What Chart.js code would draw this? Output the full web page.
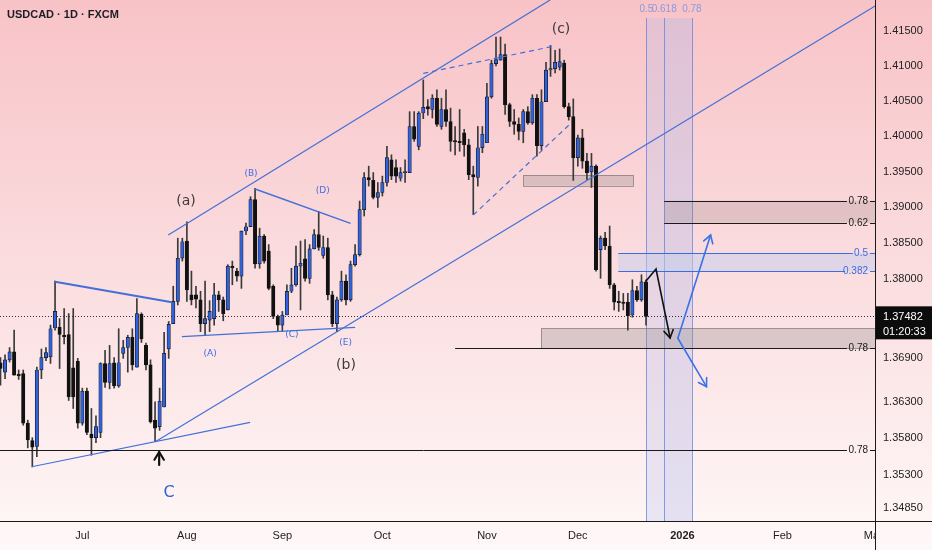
<!DOCTYPE html>
<html>
<head>
<meta charset="utf-8">
<script src="https://cdn.jsdelivr.net/npm/chart.js@4.4.1/dist/chart.umd.min.js"></script>
<style>
html, body { margin: 0; padding: 0; background: #fff; }
canvas { display: block; }
</style>
</head>
<body>
<canvas id="chart" width="932" height="550"></canvas>
<script>
// USDCAD daily candles, index 0 = 5 Jun 2025 (one bar per weekday)
var candleOpen = [
  1.3684,1.3671,1.3688,1.3699,1.3668,1.3669,1.3601,1.3577,1.3569,1.3674,
  1.3691,1.3692,1.3732,1.3733,1.3722,1.3723,1.3677,1.3686,1.3601,1.3645,
  1.3586,1.3581,1.3588,1.3683,1.3657,1.3684,1.3652,1.3697,1.3705,1.3719,
  1.3678,1.3751,1.3708,1.3681,1.3605,1.3596,1.3623,1.3703,1.3738,1.3769,
  1.3829,1.3853,1.3778,1.3778,1.3771,1.3738,1.3743,1.3745,1.3778,1.3771,
  1.3757,1.3818,1.3811,1.3804,1.3867,1.3873,1.3911,1.3821,1.3860,1.3839,
  1.3790,1.3748,1.3736,1.3750,1.3783,1.3792,1.3818,1.3828,1.3801,1.3842,
  1.3862,1.3833,1.3844,1.3778,1.3738,1.3771,1.3797,1.3771,1.3820,1.3834,
  1.3897,1.3942,1.3938,1.3914,1.3921,1.3935,1.3967,1.3956,1.3941,1.3949,
  1.3949,1.4014,1.3986,1.4033,1.4042,1.4038,1.4054,1.4014,1.4038,1.4021,
  1.3994,1.3993,1.4005,1.3988,1.3946,1.3942,1.3984,1.3991,1.4056,1.4103,
  1.4108,1.4116,1.4045,1.4021,1.4017,1.4007,1.4035,1.4019,1.4054,1.3987,
  1.4049,1.4094,1.4096,1.4098,1.4104,1.4042,1.4028,1.3970,1.3998,1.3965,
  1.3950,1.3958,1.3841,1.3857,1.3846,1.3792,1.3769,1.3768,1.3768,1.3750,
  1.3784,1.3771,1.3796
];
var candleHigh = [
  1.3691,1.3695,1.3705,1.3729,1.3674,1.3674,1.3605,1.3581,1.3678,1.3703,
  1.3705,1.3736,1.3797,1.3745,1.3759,1.3752,1.3759,1.3690,1.3649,1.3649,
  1.3621,1.3611,1.3684,1.3701,1.3708,1.3691,1.3731,1.3715,1.3722,1.3731,
  1.3773,1.3753,1.3711,1.3688,1.3630,1.3649,1.3726,1.3741,1.3790,1.3857,
  1.3857,1.3880,1.3811,1.3790,1.3783,1.3797,1.3770,1.3794,1.3783,1.3775,
  1.3820,1.3825,1.3815,1.3867,1.3878,1.3915,1.3927,1.3871,1.3862,1.3848,
  1.3792,1.3750,1.3755,1.3792,1.3815,1.3846,1.3853,1.3855,1.3848,1.3869,
  1.3894,1.3860,1.3857,1.3783,1.3775,1.3811,1.3806,1.3825,1.3848,1.3909,
  1.3949,1.3958,1.3949,1.3935,1.3944,1.3986,1.3974,1.3967,1.3956,1.3967,
  1.4035,1.4035,1.4035,1.4080,1.4052,1.4059,1.4066,1.4054,1.4066,1.4040,
  1.4014,1.4038,1.4010,1.3996,1.3958,1.4014,1.4014,1.4075,1.4108,1.4141,
  1.4141,1.4131,1.4047,1.4038,1.4026,1.4038,1.4042,1.4059,1.4059,1.4066,
  1.4105,1.4129,1.4122,1.4124,1.4108,1.4047,1.4053,1.4002,1.4010,1.3976,
  1.3976,1.3960,1.3860,1.3865,1.3874,1.3794,1.3783,1.3780,1.3780,1.3799,
  1.3790,1.3806,1.3799
];
var candleLow = [
  1.3653,1.3662,1.3685,1.3667,1.3661,1.3598,1.3567,1.3541,1.3555,1.3662,
  1.3687,1.3683,1.3729,1.3676,1.3710,1.3632,1.3621,1.3594,1.3598,1.3585,
  1.3557,1.3574,1.3581,1.3650,1.3648,1.3649,1.3650,1.3690,1.3671,1.3674,
  1.3678,1.3712,1.3674,1.3601,1.3576,1.3591,1.3623,1.3690,1.3738,1.3764,
  1.3825,1.3769,1.3764,1.3760,1.3727,1.3722,1.3727,1.3736,1.3755,1.3742,
  1.3757,1.3792,1.3797,1.3787,1.3862,1.3873,1.3815,1.3815,1.3822,1.3785,
  1.3745,1.3727,1.3727,1.3750,1.3781,1.3790,1.3757,1.3797,1.3794,1.3842,
  1.3840,1.3829,1.3771,1.3734,1.3727,1.3769,1.3764,1.3769,1.3818,1.3832,
  1.3888,1.3930,1.3912,1.3900,1.3916,1.3930,1.3939,1.3935,1.3937,1.3935,
  1.3949,1.3993,1.3981,1.4025,1.4030,1.4026,1.4014,1.4010,1.4014,1.3979,
  1.3974,1.3979,1.3972,1.3939,1.3890,1.3930,1.3977,1.3991,1.4054,1.4100,
  1.4108,1.4031,1.4014,1.4003,1.3995,1.3991,1.4017,1.4017,1.3972,1.3981,
  1.4049,1.4085,1.4090,1.4094,1.4040,1.4023,1.3938,1.3958,1.3955,1.3939,
  1.3928,1.3811,1.3801,1.3841,1.3787,1.3757,1.3755,1.3757,1.3729,1.3747,
  1.3769,1.3769,1.3736
];
var candleClose = [
  1.3676,1.3688,1.3699,1.3667,1.3666,1.3601,1.3578,1.3568,1.3674,1.3691,
  1.3698,1.3731,1.3755,1.3723,1.3720,1.3637,1.3637,1.3601,1.3645,1.3588,
  1.3581,1.3596,1.3683,1.3657,1.3683,1.3652,1.3684,1.3705,1.3719,1.3681,
  1.3752,1.3717,1.3681,1.3603,1.3594,1.3631,1.3697,1.3737,1.3769,1.3829,
  1.3852,1.3785,1.3771,1.3772,1.3738,1.3745,1.3755,1.3778,1.3771,1.3752,
  1.3818,1.3816,1.3804,1.3867,1.3873,1.3911,1.3821,1.3860,1.3825,1.3787,
  1.3748,1.3736,1.3750,1.3783,1.3792,1.3818,1.3822,1.3801,1.3842,1.3862,
  1.3844,1.3844,1.3778,1.3738,1.3771,1.3797,1.3771,1.3820,1.3834,1.3897,
  1.3942,1.3939,1.3914,1.3921,1.3935,1.3970,1.3944,1.3944,1.3949,1.3950,
  1.4014,1.3996,1.4033,1.4041,1.4039,1.4054,1.4017,1.4038,1.4021,1.3993,
  1.3992,1.3991,1.3988,1.3946,1.3943,1.3984,1.4003,1.4056,1.4103,1.4109,
  1.4116,1.4045,1.4021,1.4017,1.4007,1.4035,1.4019,1.4054,1.3987,1.4049,
  1.4094,1.4096,1.4105,1.4106,1.4042,1.4028,1.3970,1.3998,1.3965,1.3949,
  1.3958,1.3813,1.3857,1.3846,1.3792,1.3768,1.3767,1.3766,1.3749,1.3784,
  1.3771,1.3796,1.37482
];

// axis ticks
var monthTicks = [18, 41, 62, 84, 107, 127, 150, 172, 192];
var monthLabels = ['Jul', 'Aug', 'Sep', 'Oct', 'Nov', 'Dec', '2026', 'Feb', 'Mar'];
var priceTicks = [1.415, 1.410, 1.405, 1.400, 1.395, 1.390, 1.385, 1.380, 1.369, 1.363, 1.358, 1.353, 1.3485];
var countdown = '01:20:33';

// drawings: [bar index, price]
var upperChannel = [[36.9, 1.38614], [120.9, 1.41939]];
var lowerChannel = [[34.05, 1.35754], [192.4, 1.41853]];
var waveCSupport = [[6.86, 1.35412], [54.9, 1.36020]];
var triangleTop = [[12.0, 1.37963], [37.7, 1.37677]];
var lineACE = [[39.9, 1.37200], [78.0, 1.37330]];
var lineBD = [[56.0, 1.39259], [77.0, 1.38778]];
var dashTop = [[93.0, 1.40893], [121.2, 1.41272]];
var dashLow = [[104.0, 1.38894], [125.3, 1.40175]];

var arrowBlack = [[142.0, 1.37973], [144.2, 1.38140], [147.3, 1.37182]];
var arrowUp = [[149.0, 1.37178], [156.2, 1.38614]];
var arrowDown = [[149.0, 1.37178], [155.3, 1.36510]];
var arrowC = [[34.9, 1.35436], [34.9, 1.35613]];

// zones: [from index, to index (null = right edge), low, high]
var zoneBoxes = [[115.0, 139.2, 1.39305, 1.39455], [118.9, null, 1.37039, 1.37316]];
var fibFills = [[146.0, 1.38786, 1.39094], [135.9, 1.38112, 1.38359]];
// fib levels: [from, to, price, label]
var fibBlack = [
  [146.0, 186.2, 1.39094, '0.78'],
  [146.0, 186.2, 1.38786, '0.62'],
  [100.0, 186.2, 1.37039, '0.78'],
  [-1, 186.2, 1.35641, '0.78']
];
var fibBlue = [
  [135.9, 187.5, 1.38359, '0.5'],
  [135.9, 185.8, 1.38112, '0.382']
];
var timeFibs = [[142.1, '0.5'], [146.0, '0.618'], [152.1, '0.78']];

var waveLabels = [['(a)', 40.8, 1.39090], ['(b)', 76.0, 1.36809], ['(c)', 123.3, 1.41524]];
var subLabels = [['(B)', 55.1, 1.39469], ['(D)', 70.9, 1.39230], ['(A)', 46.1, 1.36960], ['(C)', 64.1, 1.37223], ['(E)', 75.9, 1.37113]];
var bigLabels = [['C', 37.1, 1.35054]];

var BLUE = '#2f62dc';
var LINE = '#4270d8';
var FONT = '"Liberation Sans", Arial, sans-serif';

function toXY(pts) {
  return pts.map(function (p) { return { x: p[0], y: p[1] }; });
}
function trend(pts, width, dash) {
  return { type: 'line', data: toXY(pts), borderColor: LINE, borderWidth: width, borderDash: dash || [],
    pointRadius: 0, fill: false, tension: 0, order: 1 };
}

var wicks = [], bodies = [], bodyColors = [];
for (var i = 0; i < candleOpen.length; i++) {
  wicks.push({ x: i, y: [candleLow[i], candleHigh[i]] });
  bodies.push({ x: i, y: [candleOpen[i], candleClose[i]] });
  bodyColors.push(candleClose[i] >= candleOpen[i] ? BLUE : '#111');
}

function bgGradient(ctx) {
  var g = ctx.createLinearGradient(0, 0, 0, 550);
  g.addColorStop(0, '#f8c3c7');
  g.addColorStop(0.55, '#fbe0e2');
  g.addColorStop(1, '#fff8f8');
  return g;
}

function line(ctx, x1, y1, x2, y2) {
  ctx.beginPath(); ctx.moveTo(x1, y1); ctx.lineTo(x2, y2); ctx.stroke();
}

function arrow(c, pts, color, width) {
  var ctx = c.ctx, xs = c.scales.x, ys = c.scales.y;
  var p = pts.map(function (q) { return [xs.getPixelForValue(q[0]), ys.getPixelForValue(q[1])]; });
  ctx.save();
  ctx.strokeStyle = color; ctx.lineWidth = width; ctx.lineCap = 'round';
  ctx.beginPath(); ctx.moveTo(p[0][0], p[0][1]);
  for (var k = 1; k < p.length; k++) ctx.lineTo(p[k][0], p[k][1]);
  ctx.stroke();
  var a = p[p.length - 2], b = p[p.length - 1];
  var ang = Math.atan2(b[1] - a[1], b[0] - a[0]);
  var len = 9;
  ctx.beginPath();
  ctx.moveTo(b[0] - len * Math.cos(ang - 0.55), b[1] - len * Math.sin(ang - 0.55));
  ctx.lineTo(b[0], b[1]);
  ctx.lineTo(b[0] - len * Math.cos(ang + 0.55), b[1] - len * Math.sin(ang + 0.55));
  ctx.stroke();
  ctx.restore();
}

var overlay = {
  id: 'overlay',
  beforeDraw: function (c) {
    var ctx = c.ctx;
    ctx.save();
    ctx.fillStyle = bgGradient(ctx);
    ctx.fillRect(0, 0, c.width, c.height);
    ctx.restore();
  },
  beforeDatasetsDraw: function (c) {
    var ctx = c.ctx, xs = c.scales.x, ys = c.scales.y, ca = c.chartArea;
    ctx.save();
    ctx.beginPath(); ctx.rect(ca.left, ca.top, ca.right - ca.left, ca.bottom - ca.top); ctx.clip();

    // time fib band
    var t0 = xs.getPixelForValue(timeFibs[0][0]);
    var t1 = xs.getPixelForValue(timeFibs[1][0]);
    var t2 = xs.getPixelForValue(timeFibs[2][0]);
    ctx.fillStyle = 'rgba(175,185,235,0.26)';
    ctx.fillRect(t0, ca.top + 18, t1 - t0, ca.bottom - ca.top - 18);
    ctx.fillStyle = 'rgba(175,185,235,0.34)';
    ctx.fillRect(t1, ca.top + 18, t2 - t1, ca.bottom - ca.top - 18);
    ctx.strokeStyle = 'rgba(95,130,220,0.75)'; ctx.lineWidth = 1;
    timeFibs.forEach(function (t) {
      var x = Math.round(xs.getPixelForValue(t[0])) + 0.5;
      line(ctx, x, ca.top + 18, x, ca.bottom);
    });

    // fib fills
    var f0 = fibFills[0];
    ctx.fillStyle = 'rgba(135,120,120,0.22)';
    ctx.fillRect(xs.getPixelForValue(f0[0]), ys.getPixelForValue(f0[2]), ca.right - xs.getPixelForValue(f0[0]),
      ys.getPixelForValue(f0[1]) - ys.getPixelForValue(f0[2]));
    var f1 = fibFills[1];
    ctx.fillStyle = 'rgba(195,205,240,0.5)';
    ctx.fillRect(xs.getPixelForValue(f1[0]), ys.getPixelForValue(f1[2]), ca.right - xs.getPixelForValue(f1[0]),
      ys.getPixelForValue(f1[1]) - ys.getPixelForValue(f1[2]));

    // gray zones
    zoneBoxes.forEach(function (b) {
      var x1 = xs.getPixelForValue(b[0]);
      var x2 = b[1] === null ? ca.right : xs.getPixelForValue(b[1]);
      var y1 = ys.getPixelForValue(b[3]), y2 = ys.getPixelForValue(b[2]);
      ctx.fillStyle = 'rgba(150,140,140,0.32)';
      ctx.fillRect(x1, y1, x2 - x1, y2 - y1);
      ctx.strokeStyle = 'rgba(110,105,105,0.6)'; ctx.lineWidth = 1;
      ctx.strokeRect(Math.round(x1) + 0.5, Math.round(y1) + 0.5, Math.round(x2 - x1), Math.round(y2 - y1));
    });

    // current price dotted line
    var yp = Math.round(ys.getPixelForValue(candleClose[candleClose.length - 1])) + 0.5;
    ctx.strokeStyle = '#333'; ctx.setLineDash([1, 2]);
    line(ctx, ca.left, yp, ca.right, yp);
    ctx.setLineDash([]);
    ctx.restore();
  },
  afterDatasetsDraw: function (c) {
    var ctx = c.ctx, xs = c.scales.x, ys = c.scales.y, ca = c.chartArea;
    ctx.save();

    // fib level lines and labels
    ctx.font = '10px ' + FONT; ctx.textAlign = 'right'; ctx.textBaseline = 'middle';
    function levels(list, color) {
      ctx.strokeStyle = color; ctx.fillStyle = color; ctx.lineWidth = 1;
      list.forEach(function (l) {
        var y = Math.round(ys.getPixelForValue(l[2])) + 0.5;
        line(ctx, Math.max(ca.left, xs.getPixelForValue(l[0])), y, xs.getPixelForValue(l[1]), y);
        line(ctx, ca.right - 5, y, ca.right, y);
        ctx.fillText(l[3], ca.right - 7, y);
      });
    }
    levels(fibBlack, '#1a1a1a');
    levels(fibBlue, '#3a6ee0');

    // time fib labels
    ctx.textAlign = 'center'; ctx.fillStyle = '#8a9ae0'; ctx.font = '10px ' + FONT;
    timeFibs.forEach(function (t) { ctx.fillText(t[1], xs.getPixelForValue(t[0]), ca.top + 9); });

    // arrows
    arrow(c, arrowBlack, '#111', 1.6);
    arrow(c, arrowUp, '#3a72e8', 1.6);
    arrow(c, arrowDown, '#3a72e8', 1.6);
    arrow(c, arrowC, '#111', 2.2);

    // wave labels
    ctx.textAlign = 'center'; ctx.textBaseline = 'middle';
    ctx.font = '14px "DejaVu Sans", sans-serif'; ctx.fillStyle = '#3b3b3b';
    waveLabels.forEach(function (w) { ctx.fillText(w[0], xs.getPixelForValue(w[1]), ys.getPixelForValue(w[2])); });
    ctx.font = '9px "DejaVu Sans", sans-serif'; ctx.fillStyle = '#3d6fe0';
    subLabels.forEach(function (w) { ctx.fillText(w[0], xs.getPixelForValue(w[1]), ys.getPixelForValue(w[2])); });
    ctx.font = '16px "DejaVu Sans", sans-serif'; ctx.fillStyle = '#2f62d8';
    bigLabels.forEach(function (w) { ctx.fillText(w[0], xs.getPixelForValue(w[1]), ys.getPixelForValue(w[2])); });

    // symbol title
    ctx.textAlign = 'left'; ctx.fillStyle = '#1c1c24';
    ctx.font = 'bold 11px ' + FONT;
    ctx.fillText('USDCAD \u00b7 1D \u00b7 FXCM', 7, 15);
    ctx.restore();
  },
  afterDraw: function (c) {
    var ctx = c.ctx, ys = c.scales.y, ca = c.chartArea;
    ctx.save();
    // clip x labels running under the price axis
    ctx.fillStyle = bgGradient(ctx);
    ctx.fillRect(ca.right + 1, ca.bottom + 1, c.width - ca.right, c.height - ca.bottom);
    // axis lines
    ctx.strokeStyle = '#1a1a1a'; ctx.lineWidth = 1;
    var xr = Math.round(ca.right) + 0.5, yb = Math.round(ca.bottom) + 0.5;
    line(ctx, xr, 0, xr, c.height);
    line(ctx, 0, yb, c.width, yb);
    // last price box
    var last = candleClose[candleClose.length - 1];
    var yp = ys.getPixelForValue(last);
    ctx.fillStyle = '#0c0c0c';
    ctx.fillRect(ca.right + 1, yp - 10, c.width - ca.right, 33);
    ctx.fillStyle = '#fff'; ctx.font = '11px ' + FONT;
    ctx.textAlign = 'left'; ctx.textBaseline = 'middle';
    ctx.fillText(last.toFixed(5), ca.right + 8, yp + 1);
    ctx.fillText(countdown, ca.right + 8, yp + 16);
    ctx.restore();
  }
};

new Chart(document.getElementById('chart'), {
  type: 'bar',
  data: {
    datasets: [
      trend(upperChannel, 1.2),
      trend(lowerChannel, 1.2),
      trend(waveCSupport, 1.2),
      trend(triangleTop, 2),
      trend(lineACE, 1.2),
      trend(lineBD, 1.4),
      trend(dashTop, 1.2, [5, 4]),
      trend(dashLow, 1.2, [5, 4]),
      { type: 'bar', data: bodies, backgroundColor: bodyColors, borderColor: '#141414', borderWidth: 0.7,
        borderSkipped: false, barThickness: 3.4, minBarLength: 1, grouped: false, order: 2 },
      { type: 'bar', data: wicks, backgroundColor: '#3a3a3a', borderWidth: 0,
        barThickness: 1, grouped: false, order: 3 }
    ]
  },
  options: {
    responsive: false,
    animation: false,
    layout: { padding: 0 },
    plugins: { legend: { display: false }, tooltip: { enabled: false } },
    scales: {
      x: {
        type: 'linear', position: 'bottom', offset: false, bounds: 'data',
        min: -0.11, max: 192.37,
        grid: { display: false, drawTicks: false },
        border: { display: true, color: '#1a1a1a' },
        afterBuildTicks: function (s) { s.ticks = monthTicks.map(function (v) { return { value: v }; }); },
        afterFit: function (s) { s.height = 29; s.paddingLeft = 0; s.paddingRight = 0; },
        ticks: {
          autoSkip: false, maxRotation: 0, padding: 8, color: '#222',
          font: function (ctx) {
            return { family: FONT, size: 11, weight: ctx.tick && ctx.tick.label === '2026' ? 'bold' : 'normal' };
          },
          callback: function (v) { return monthLabels[monthTicks.indexOf(v)]; }
        }
      },
      y: {
        type: 'logarithmic', position: 'right', bounds: 'data',
        min: 1.34673, max: 1.41939,
        grid: { display: false, drawTicks: false },
        border: { display: true, color: '#1a1a1a' },
        afterBuildTicks: function (s) { s.ticks = priceTicks.map(function (v) { return { value: v }; }); },
        afterFit: function (s) { s.width = 57; s.paddingTop = 0; s.paddingBottom = 0; },
        ticks: {
          padding: 8, color: '#222', font: { family: FONT, size: 11 },
          callback: function (v) { return Number(v).toFixed(5); }
        }
      }
    }
  },
  plugins: [overlay]
});
</script>
</body>
</html>
